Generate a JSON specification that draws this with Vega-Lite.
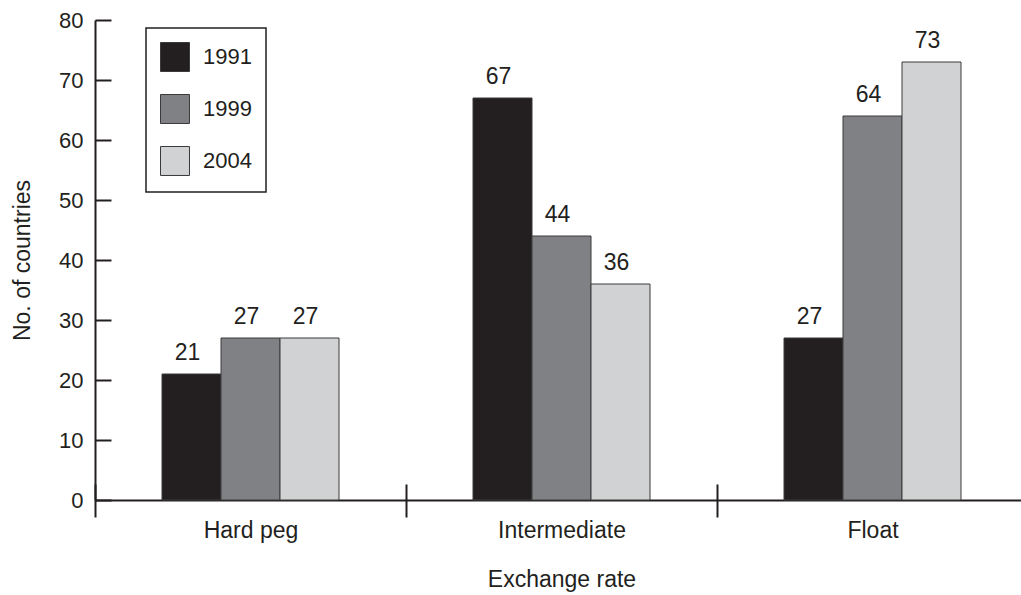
{
  "$schema": "https://vega.github.io/schema/vega-lite/v6.json",
  "width": 926,
  "height": 480,
  "autosize": {"type": "none"},
  "padding": {"left": 95, "top": 20, "right": 0, "bottom": 95},
  "background": "white",
  "config": {
    "view": {"stroke": null},
    "font": "Liberation Sans",
    "axis": {"domainColor": "#231f20", "tickColor": "#231f20", "domainWidth": 2, "tickWidth": 2, "labelColor": "#231f20", "titleColor": "#231f20", "labelFontSize": 23, "titleFontSize": 23, "titleFontWeight": "normal", "grid": false}
  },
  "data": {"values": [
    {"regime": "Hard peg", "year": "1991", "count": 21},
    {"regime": "Hard peg", "year": "1999", "count": 27},
    {"regime": "Hard peg", "year": "2004", "count": 27},
    {"regime": "Intermediate", "year": "1991", "count": 67},
    {"regime": "Intermediate", "year": "1999", "count": 44},
    {"regime": "Intermediate", "year": "2004", "count": 36},
    {"regime": "Float", "year": "1991", "count": 27},
    {"regime": "Float", "year": "1999", "count": 64},
    {"regime": "Float", "year": "2004", "count": 73}
  ]},
  "layer": [
    {
      "mark": {"type": "bar", "stroke": "#3a3a3a", "strokeWidth": 1},
      "encoding": {
        "x": {"field": "regime", "type": "nominal", "sort": ["Hard peg", "Intermediate", "Float"],
          "scale": {"range": [0, 933], "paddingInner": 0, "paddingOuter": 0},
          "axis": {"orient": "bottom", "title": "Exchange rate", "tickBand": "extent", "tickSize": 17, "labelPadding": 2, "titlePadding": 26, "labelAngle": 0}},
        "xOffset": {"field": "year", "type": "nominal", "scale": {"range": [67, 244], "paddingInner": 0, "paddingOuter": 0}},
        "y": {"field": "count", "type": "quantitative", "scale": {"domain": [0, 80], "nice": false},
          "axis": {"orient": "left", "title": "No. of countries", "ticks": false, "labelPadding": 12, "labelFontSize": 22, "titlePadding": 24, "values": [0,10,20,30,40,50,60,70,80]}},
        "fill": {"field": "year", "type": "nominal",
          "scale": {"domain": ["1991", "1999", "2004"], "range": ["#231f20", "#808184", "#d1d2d4"]},
          "legend": {"title": null, "orient": "none", "legendX": 51, "legendY": 8,
            "strokeColor": "#231f20", "fillColor": "white",
            "padding": 14, "symbolType": "square", "symbolSize": 840, "symbolStrokeColor": "#3a3a3a", "symbolStrokeWidth": 1,
            "rowPadding": 18, "labelFontSize": 22, "labelColor": "#231f20", "labelOffset": 13, "labelLimit": 200,
            "encode": {"legend": {"update": {"strokeWidth": {"value": 1.5}, "width": {"value": 107}}}}}}
      }
    },
    {
      "mark": {"type": "text", "fontSize": 23, "color": "#231f20", "baseline": "alphabetic", "dy": -14, "dx": -4},
      "encoding": {
        "x": {"field": "regime", "type": "nominal", "sort": ["Hard peg", "Intermediate", "Float"], "axis": null},
        "xOffset": {"field": "year", "type": "nominal"},
        "y": {"field": "count", "type": "quantitative", "axis": null},
        "text": {"field": "count", "type": "quantitative"}
      }
    },
    {
      "mark": {"type": "bar", "opacity": 0},
      "encoding": {
        "x": {"field": "regime", "type": "nominal", "sort": ["Hard peg", "Intermediate", "Float"],
          "axis": {"orient": "top", "offset": -480, "title": null, "labels": false, "domain": false, "tickBand": "extent", "tickSize": 16}},
        "y": {"field": "count", "type": "quantitative",
          "axis": {"orient": "right", "offset": -926, "title": null, "labels": false, "domain": false, "tickSize": 16, "values": [0,10,20,30,40,50,60,70,80]}}
      }
    }
  ],
  "resolve": {"axis": {"x": "independent", "y": "independent"}}
}
